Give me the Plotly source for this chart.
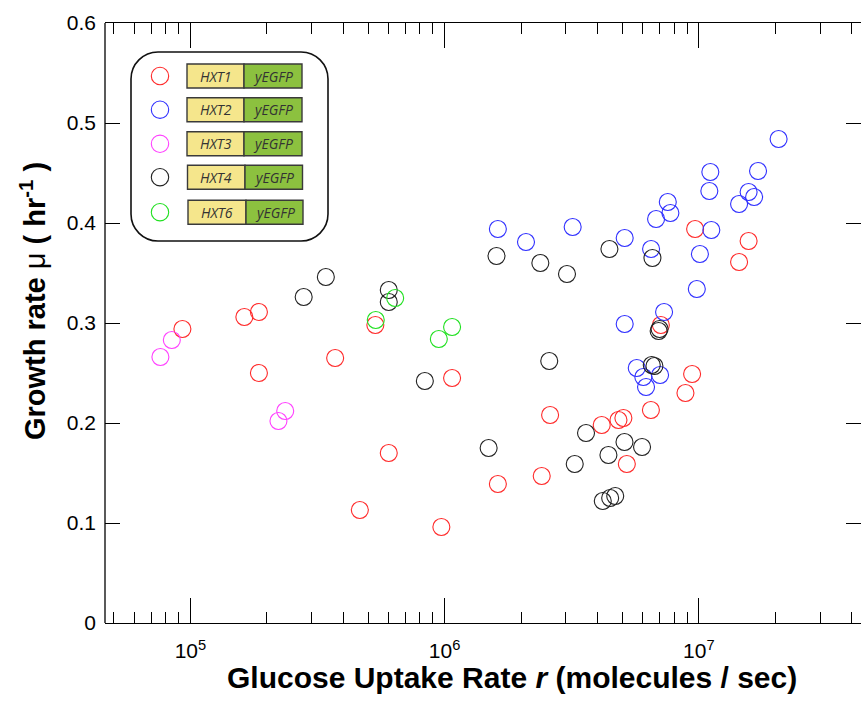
import plotly.graph_objects as go

# ---------------- data ----------------
hxt1_r = [9.30e4, 1.63e5, 1.86e5, 1.86e5, 3.71e5, 5.34e5, 6.03e5, 4.64e5, 9.71e5, 1.07e6,
          1.62e6, 2.41e6, 2.60e6, 4.15e6, 4.83e6, 5.05e6, 5.21e6, 6.48e6, 7.09e6, 8.86e6,
          9.41e6, 9.67e6, 1.44e7, 1.57e7]
hxt1_mu = [0.294, 0.306, 0.311, 0.250, 0.265, 0.298, 0.170, 0.113, 0.096, 0.245,
           0.139, 0.147, 0.208, 0.198, 0.203, 0.205, 0.159, 0.213, 0.298, 0.230,
           0.249, 0.394, 0.361, 0.382]

hxt2_r = [1.62e6, 2.09e6, 3.19e6, 5.11e6, 5.11e6, 6.79e6, 7.73e6, 7.55e6, 6.49e6, 7.30e6,
          5.70e6, 6.05e6, 6.20e6, 7.04e6, 9.82e6, 1.01e7, 1.12e7, 1.10e7, 1.11e7, 1.44e7,
          1.57e7, 1.65e7, 1.71e7, 2.06e7]
hxt2_mu = [0.394, 0.381, 0.396, 0.385, 0.299, 0.404, 0.410, 0.421, 0.374, 0.311,
           0.255, 0.246, 0.236, 0.248, 0.334, 0.369, 0.393, 0.432, 0.451, 0.419,
           0.431, 0.426, 0.452, 0.484]

hxt3_r = [7.62e4, 8.45e4, 2.36e5, 2.22e5]
hxt3_mu = [0.266, 0.283, 0.212, 0.202]

hxt4_r = [2.79e5, 3.41e5, 6.03e5, 6.03e5, 8.36e5, 1.49e6, 1.60e6, 2.38e6, 2.58e6, 3.03e6,
          3.25e6, 3.60e6, 4.45e6, 4.41e6, 5.10e6, 5.98e6, 4.19e6, 4.48e6, 4.69e6, 6.57e6,
          6.53e6, 6.69e6, 6.95e6, 7.01e6]
hxt4_mu = [0.326, 0.346, 0.333, 0.321, 0.242, 0.175, 0.367, 0.360, 0.262, 0.349,
           0.159, 0.190, 0.374, 0.168, 0.181, 0.176, 0.122, 0.125, 0.127, 0.365,
           0.258, 0.257, 0.292, 0.294]

hxt6_r = [5.36e5, 6.39e5, 9.49e5, 1.07e6]
hxt6_mu = [0.303, 0.325, 0.284, 0.296]

gene_names = ["HXT1", "HXT2", "HXT3", "HXT4", "HXT6"]
reporter = "yEGFP"
series_colors = ["#ff2a2a", "#3030ff", "#ff40ff", "#222222", "#20e020"]

x_tickvals = [1e5, 1e6, 1e7]
x_ticktext = ["10<sup>5</sup>", "10<sup>6</sup>", "10<sup>7</sup>"]
y_tickvals = [0, 0.1, 0.2, 0.3, 0.4, 0.5, 0.6]

series = [(hxt1_r, hxt1_mu), (hxt2_r, hxt2_mu), (hxt3_r, hxt3_mu),
          (hxt4_r, hxt4_mu), (hxt6_r, hxt6_mu)]

# ---------------- layout helpers (pixel -> paper) ----------------
W, H = 861, 704
ML, MR, MT, MB = 105, 0, 23, 81
PW, PH = W - ML - MR, H - MT - MB


def PX(x):
    return (x - ML) / PW


def PY(y):
    return (H - MB - y) / PH


fig = go.Figure()
for name, (r, mu), col in zip(gene_names, series, series_colors):
    fig.add_trace(go.Scatter(
        x=r, y=mu, mode="markers", name=name,
        marker=dict(symbol="circle-open", size=17, color=col, line=dict(width=1.1, color=col)),
        showlegend=False,
    ))

shapes = []
annotations = []

# rounded legend box
x0, x1, y0, y1, rad = 131, 328, 52, 241, 27
k = 0.552 * rad
path = (
    f"M {PX(x0+rad)},{PY(y0)} L {PX(x1-rad)},{PY(y0)} "
    f"C {PX(x1-rad+k)},{PY(y0)} {PX(x1)},{PY(y0+rad-k)} {PX(x1)},{PY(y0+rad)} "
    f"L {PX(x1)},{PY(y1-rad)} "
    f"C {PX(x1)},{PY(y1-rad+k)} {PX(x1-rad+k)},{PY(y1)} {PX(x1-rad)},{PY(y1)} "
    f"L {PX(x0+rad)},{PY(y1)} "
    f"C {PX(x0+rad-k)},{PY(y1)} {PX(x0)},{PY(y1-rad+k)} {PX(x0)},{PY(y1-rad)} "
    f"L {PX(x0)},{PY(y0+rad)} "
    f"C {PX(x0)},{PY(y0+rad-k)} {PX(x0+rad-k)},{PY(y0)} {PX(x0+rad)},{PY(y0)} Z"
)
shapes.append(dict(type="path", xref="paper", yref="paper", path=path,
                   line=dict(color="#111111", width=1.6), fillcolor="white", layer="above"))

row_cy = [76, 109.7, 143.8, 177.2, 212.2]
box_x0 = [187, 187, 187, 187.5, 188]
box_xm = [244, 244, 244, 245, 246]
box_x1 = [302, 302, 302, 302.5, 303]
legend_font = dict(family="Open Sans, Liberation Sans, sans-serif", size=14, color="#333333")
for i, name in enumerate(gene_names):
    cy = row_cy[i]
    cr = 8.7
    shapes.append(dict(type="circle", xref="paper", yref="paper",
                       x0=PX(160 - cr), x1=PX(160 + cr), y0=PY(cy + cr), y1=PY(cy - cr),
                       line=dict(color=series_colors[i], width=1.1), layer="above"))
    shapes.append(dict(type="rect", xref="paper", yref="paper",
                       x0=PX(box_x0[i]), x1=PX(box_xm[i]), y0=PY(cy + 12), y1=PY(cy - 12),
                       fillcolor="#f5e68c", line=dict(color="#3a3a3a", width=1.4), layer="above"))
    shapes.append(dict(type="rect", xref="paper", yref="paper",
                       x0=PX(box_xm[i]), x1=PX(box_x1[i]), y0=PY(cy + 12), y1=PY(cy - 12),
                       fillcolor="#8cc13f", line=dict(color="#3a3a3a", width=1.4), layer="above"))
    annotations.append(dict(xref="paper", yref="paper", x=PX((box_x0[i] + box_xm[i]) / 2), y=PY(cy),
                            text=f"<i>{name}</i>", showarrow=False, xanchor="center", yanchor="middle",
                            font=legend_font))
    annotations.append(dict(xref="paper", yref="paper", x=PX((box_xm[i] + box_x1[i]) / 2), y=PY(cy),
                            text=f"<i>{reporter}</i>", showarrow=False, xanchor="center", yanchor="middle",
                            font=legend_font))

# left axis line (drawn as a shape so that the right edge carries ticks only)
shapes.append(dict(type="line", xref="paper", yref="paper", x0=0, x1=0, y0=0, y1=1,
                   line=dict(color="black", width=1.3), layer="above"))

# axis titles
annotations.append(dict(xref="paper", yref="paper", x=PX(512), y=PY(678),
                        text="<b>Glucose Uptake Rate <i>r</i> (molecules / sec)</b>",
                        showarrow=False, xanchor="center", yanchor="middle",
                        font=dict(family="Liberation Sans, Arial, sans-serif", size=30, color="black")))
annotations.append(dict(xref="paper", yref="paper", x=PX(33), y=PY(301), textangle=-90,
                        text="<b>Growth rate </b>μ<b> ( hr<sup>-1</sup> )</b>",
                        showarrow=False, xanchor="center", yanchor="middle",
                        font=dict(family="Liberation Sans, Arial, sans-serif", size=29, color="black")))

lo = 4.664
fig.update_layout(
    width=W, height=H,
    margin=dict(l=ML, r=MR, t=MT, b=MB, pad=0),
    paper_bgcolor="white", plot_bgcolor="white",
    shapes=shapes, annotations=annotations,
    font=dict(family="Liberation Sans, Arial, sans-serif", color="black"),
    xaxis=dict(
        type="log", range=[lo, lo + PW / 254.2],
        tickvals=x_tickvals, ticktext=x_ticktext,
        ticks="inside", ticklen=25, tickwidth=1.2, tickcolor="black",
        minor=dict(ticks="inside", ticklen=11, tickwidth=1.1, tickcolor="black", dtick="D1", showgrid=False),
        showline=True, linecolor="black", linewidth=1.3, mirror="ticks",
        showgrid=False, zeroline=False,
        tickfont=dict(size=21, family="Liberation Sans, Arial, sans-serif"),
        ticklabelstandoff=9,
    ),
    yaxis=dict(
        range=[0, 0.6], tickvals=y_tickvals,
        ticks="inside", ticklen=15, tickwidth=1.2, tickcolor="black",
        showline=False, mirror="ticks",
        showgrid=False, zeroline=False,
        tickfont=dict(size=21, family="Liberation Sans, Arial, sans-serif"),
        ticklabelstandoff=8,
    ),
)

fig.write_html("out.html")
